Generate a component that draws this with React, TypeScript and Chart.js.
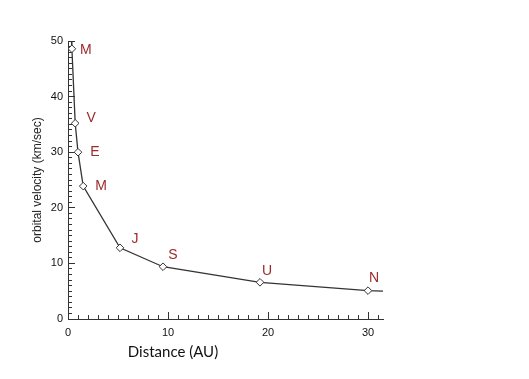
import React, { useEffect, useRef } from "react";
import { Chart, registerables } from "chart.js";

Chart.register(...registerables);

// ---- data ----
const planetLabels = ["M", "V", "E", "M", "J", "S", "U", "N"];
const distanceAU = [0.39, 0.72, 1.0, 1.52, 5.2, 9.5, 19.2, 30.0];
const velocity = [48.6, 35.2, 30.0, 23.9, 12.8, 9.4, 6.6, 5.1];
const curveX = [0.35, ...distanceAU, 31.5];
const curveY = [50, ...velocity, 5.0];
const xTitle = "Distance (AU)";
const yTitle = "orbital velocity (km/sec)";

// label offsets (px) relative to each marker
const labelOffsets: [number, number][] = [
  [14, 1],
  [16, -5],
  [17, 0],
  [18, 0],
  [15, -9],
  [10, -12],
  [7, -11],
  [6, -13],
];

const tickFont = { family: '"Liberation Sans", Arial, sans-serif', size: 11 };

const overlayPlugin = {
  id: "overlayText",
  afterDatasetsDraw(chart: any) {
    const { ctx, scales, chartArea } = chart;
    const x = scales.x;
    const y = scales.y;
    ctx.save();
    ctx.font = '14px "Liberation Sans", Arial, sans-serif';
    ctx.fillStyle = "#9b2a2a";
    ctx.textAlign = "center";
    ctx.textBaseline = "middle";
    planetLabels.forEach((t, i) => {
      ctx.fillText(
        t,
        x.getPixelForValue(distanceAU[i]) + labelOffsets[i][0],
        y.getPixelForValue(velocity[i]) + labelOffsets[i][1]
      );
    });
    ctx.font = '15px Lato, "Open Sans", sans-serif';
    ctx.fillStyle = "#111";
    ctx.fillText(xTitle, chartArea.left + 105, chartArea.bottom + 33);
    ctx.restore();
  },
};

export default function App() {
  const ref = useRef<HTMLCanvasElement | null>(null);

  useEffect(() => {
    if (!ref.current) return;
    const chart = new Chart(ref.current, {
      type: "line",
      data: {
        datasets: [
          {
            label: "planets",
            data: distanceAU.map((d, i) => ({ x: d, y: velocity[i] })),
            showLine: false,
            pointStyle: "rectRot",
            pointRadius: 3.8,
            pointBorderWidth: 1,
            pointBackgroundColor: "#ffffff",
            pointBorderColor: "#333333",
            xAxisID: "x",
            yAxisID: "y",
          },
          {
            label: "curve",
            data: curveX.map((d, i) => ({ x: d, y: curveY[i] })),
            borderColor: "#333333",
            borderWidth: 1.3,
            pointRadius: 0,
            tension: 0,
            fill: false,
            xAxisID: "x",
            yAxisID: "y",
          },
        ],
      },
      options: {
        animation: false,
        responsive: false,
        layout: { padding: { left: 0, top: 41, right: 146, bottom: 0 } },
        plugins: {
          legend: { display: false },
          tooltip: { enabled: false },
        },
        scales: {
          x: {
            type: "linear",
            position: "bottom",
            weight: 1,
            min: 0,
            max: 31.5,
            border: { display: true, color: "#333", width: 1 },
            grid: { drawOnChartArea: false, drawTicks: true, tickLength: -7, color: "#333" },
            ticks: {
              stepSize: 10,
              includeBounds: false,
              autoSkip: false,
              maxRotation: 0,
              padding: 14.5,
              color: "#111",
              font: tickFont,
            },
            afterFit: (s: any) => {
              s.height = 60;
            },
          } as any,
          xMinor: {
            type: "linear",
            position: "bottom",
            weight: 0,
            min: 0,
            max: 31.5,
            border: { display: false },
            grid: { drawOnChartArea: false, drawTicks: true, tickLength: -4, color: "#333" },
            ticks: { stepSize: 1, maxTicksLimit: 100, includeBounds: false, autoSkip: false, display: false },
            afterFit: (s: any) => {
              s.height = 0;
            },
          } as any,
          y: {
            type: "linear",
            position: "left",
            weight: 1,
            min: 0,
            max: 50,
            border: { display: true, color: "#333", width: 1 },
            grid: { drawOnChartArea: false, drawTicks: true, tickLength: -7, color: "#333" },
            ticks: {
              stepSize: 10,
              autoSkip: false,
              padding: 12,
              color: "#111",
              font: tickFont,
            },
            title: {
              display: true,
              text: yTitle,
              color: "#222",
              font: { family: '"Liberation Sans", Arial, sans-serif', size: 12 },
              padding: { top: 30, bottom: 0 },
            },
            afterFit: (s: any) => {
              s.width = 68;
            },
          } as any,
          yMinor: {
            type: "linear",
            position: "left",
            weight: 0,
            min: 0,
            max: 50,
            border: { display: false },
            grid: { drawOnChartArea: false, drawTicks: true, tickLength: -4, color: "#333" },
            ticks: { stepSize: 1, maxTicksLimit: 100, autoSkip: false, display: false },
            afterFit: (s: any) => {
              s.width = 0;
            },
          } as any,
        },
      },
      plugins: [overlayPlugin],
    });
    return () => chart.destroy();
  }, []);

  return (
    <div style={{ position: "absolute", left: 0, top: 0, width: 529, height: 379, background: "#fff" }}>
      <canvas ref={ref} width={529} height={379} />
    </div>
  );
}
